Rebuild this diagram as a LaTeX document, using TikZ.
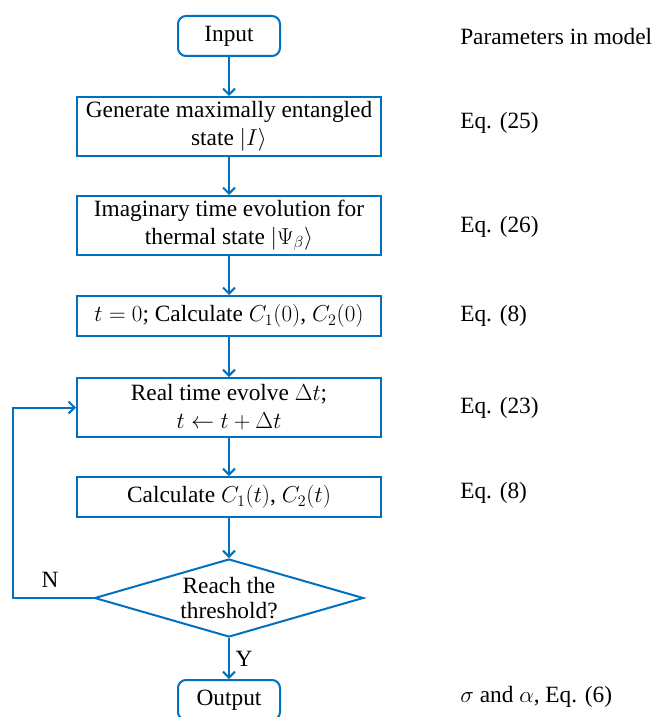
\documentclass[tikz,border=0pt]{standalone}
\usepackage{fontspec}
\setmainfont{Liberation Serif}
\usetikzlibrary{shapes.geometric,arrows.meta}
\definecolor{flowblue}{RGB}{0,112,192}
\begin{document}
\begin{tikzpicture}[x=0.75pt, y=-0.75pt, font=\fontsize{17.5}{21}\selectfont]
\useasboundingbox (0,0) rectangle (654,717);
\tikzset{every node/.style={inner sep=0pt, align=center}}
\tikzset{box/.style={draw=flowblue, line width=1.5pt, rectangle, minimum width=228pt}}
\tikzset{term/.style={draw=flowblue, line width=1.5pt, rectangle, rounded corners=6pt, minimum width=76.5pt, minimum height=30pt}}
\node [term] (input) at (229.0, 36.0) {Input};
\node [box, minimum height=44.25pt] (gen) at (229.0, 126.5) {Generate maximally entangled\\state $|I\rangle$};
\node [box, minimum height=44.25pt] (imag) at (229.0, 225.5) {Imaginary time evolution for\\thermal state $\left|\Psi_\beta\right\rangle$};
\node [box, minimum height=30pt] (calc0) at (229.0, 316.0) {$t=0$; Calculate $C_1(0)$, $C_2(0)$};
\node [box, minimum height=44.25pt] (real) at (229.0, 407.5) {Real time evolve $\Delta t$;\\$t\leftarrow t+\Delta t$};
\node [box, minimum height=30pt] (calct) at (229.0, 497.0) {Calculate $C_1(t)$, $C_2(t)$};
\node [draw=flowblue, line width=1.5pt, diamond, aspect=3.45, minimum width=201.75pt, minimum height=58.5pt, font=\fontsize{17.5}{19}\selectfont] (reach) at (229.0, 598.0) {Reach the\\threshold?};
\node [term] (output) at (229.0, 700.0) {Output};
\coordinate (ncorner) at (13.0, 598.0);

\tikzset{note/.style={anchor=west}}
\node [note] (param) at (460.0, 37.0) {Parameters in model};
\node [note] (eqa) at (460.0, 123.0) {Eq. (25)};
\node [note] (eqb) at (460.0, 227.0) {Eq. (26)};
\node [note] (eqc) at (460.0, 316.0) {Eq. (8)};
\node [note] (eqd) at (460.0, 408.0) {Eq. (23)};
\node [note] (eqe) at (460.0, 493.0) {Eq. (8)};
\node [note] (eqf) at (460.0, 697.0) {$\sigma$ and $\alpha$, Eq. (6)};
\node (no) at (50.0, 580.0) {N};
\node (yes) at (244.0, 659.0) {Y};

\tikzset{mystyle/.style={-{Straight Barb[length=4.5pt, width=9pt]}, draw=flowblue, line width=1.5pt}};
\path (input) edge [mystyle] (gen);
\path (gen) edge [mystyle] (imag);
\path (imag) edge [mystyle] (calc0);
\path (calc0) edge [mystyle] (real);
\path (real) edge [mystyle] (calct);
\path (calct) edge [mystyle] (reach);
\path (reach) edge [mystyle] (output);
\draw [mystyle] (reach.west) -- (ncorner) |- (real.west);
\end{tikzpicture}
\end{document}
